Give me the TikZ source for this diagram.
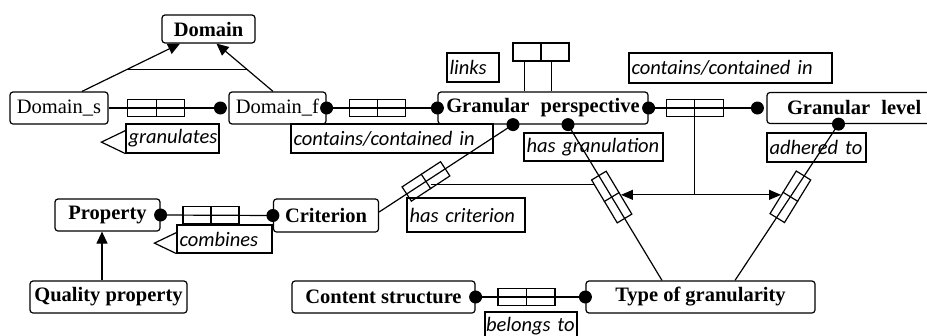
\documentclass[tikz,border=0pt]{standalone}
\usepackage{fontspec}
\setmainfont{Liberation Serif}
\newfontfamily\labfam{Carlito}
\usetikzlibrary{arrows.meta,calc}
\begin{document}
\begin{tikzpicture}[x=1pt,y=-1pt,line width=1.2pt,
  ent/.style={draw, rounded corners=3pt, fill=white, inner sep=0pt,
    font=\fontsize{20.5}{24}\selectfont\bfseries},
  entn/.style={ent, font=\fontsize{20.5}{24}\selectfont},
  lbl/.style={draw, inner xsep=2.5pt, inner ysep=0pt, align=left,
    font=\labfam\itshape\fontsize{20.5}{24}\selectfont},
  rel/.style={draw, inner sep=0pt, minimum width=#1, minimum height=17pt},
  rel/.default=57pt,
  tri/.style={-{Triangle[length=12pt,width=11pt]}},
  dot/.style={fill=black}
]
\useasboundingbox (0,0) rectangle (927,335);

% entities
\node[ent, minimum width=93pt, minimum height=28pt] (dom) at (208.5,29) {Domain};
\node[entn, minimum width=98pt, minimum height=32pt] (ds) at (59,108) {Domain\_s};
\node[entn, minimum width=97pt, minimum height=32pt] (df) at (277.5,108) {Domain\_f};
\node[ent, minimum width=210pt, minimum height=32pt] (gp) at (543,108) {Granular\hspace{0.55em}perspective};
\node[ent, minimum width=172pt, minimum height=31pt, text width=160pt, align=left] (gl) at (853,108) {\hspace{14pt}Granular\hspace{0.55em}level};
\node[ent, minimum width=105pt, minimum height=32pt] (prop) at (107.5,215) {Property};
\node[ent, minimum width=105pt, minimum height=33pt] (crit) at (326,215.5) {Criterion};
\node[ent, minimum width=157pt, minimum height=32pt] (qp) at (108.5,297) {Quality property};
\node[ent, minimum width=183pt, minimum height=32pt] (cs) at (383.5,297) {Content structure};
\node[ent, minimum width=229pt, minimum height=32pt] (tg) at (700.5,297) {Type of granularity};

% labels
\node[lbl, text width=88pt, minimum height=29pt] (lgr) at (172.5,138.5) {granulates};
\node[lbl, text width=197pt, minimum height=29pt] (lcc1) at (392,138.5) {contains/contained in};
\node[lbl, text width=47pt, minimum height=29pt] (llk) at (473,67.5) {links};
\node[lbl, text width=198pt, minimum height=30pt] (lcc2) at (730.5,68) {contains/contained in};
\node[lbl, text width=134pt, minimum height=28pt] (lhg) at (593.5,147) {has granulation};
\node[lbl, text width=94pt, minimum height=29pt] (lad) at (816.5,147.5) {adhered to};
\node[lbl, text width=113pt, minimum height=34pt] (lhc) at (466,215) {has criterion};
\node[lbl, text width=90pt, minimum height=28pt] (lcb) at (224.5,239) {combines};
\node[lbl, inner xsep=1pt, text width=90pt, minimum height=28pt] (lbt) at (531,326) {belongs to};

\draw (lgr.south west) -- ++(-24,-11.5) -- ++(24,-11.5);
\draw (lcb.south west) -- ++(-22,-10.5) -- ++(22,-10.5);

% generalisation
\draw[tri] ([xshift=23pt]ds.north) -- ([xshift=-28.5pt]dom.south);
\draw[tri] ([xshift=-4.5pt]df.north) -- ([xshift=8pt]dom.south);
\draw ($([xshift=23pt]ds.north)!0.45!([xshift=-28.5pt]dom.south)$) --
      ($([xshift=-4.5pt]df.north)!0.45!([xshift=8pt]dom.south)$);
\draw[tri] ([xshift=-6.5pt]qp.north) -- ([xshift=-6.5pt]qp.north |- prop.south);

% binary relationships
\draw (ds.east) -- node[rel, pos=0.426] (r1) {} ([xshift=-8pt]df.west);
\draw (df.east) -- node[rel=56pt, pos=0.46] (r2) {} (gp.west);
\draw (gp.east) -- node[rel, pos=0.424] (r3) {} ([xshift=-9pt]gl.west);
\draw (prop.east) -- node[rel=56pt, pos=0.449] (r4) {} (crit.west);
\draw (cs.east) -- node[rel, pos=0.464] (r5) {} (tg.west);
\foreach \r in {r1,r2,r3,r4,r5} \draw (\r.north) -- (\r.south);

% links relationship
\node[rel=56pt, minimum height=18pt] (rlk) at (541,52) {};
\draw (rlk.north) -- (rlk.south);
\draw ([xshift=-16.5pt]rlk.south) -- ([xshift=-16.5pt]rlk.south |- gp.north);
\draw ([xshift=10.5pt]rlk.south) -- ([xshift=10.5pt]rlk.south |- gp.north);

% sloped relationships
\draw ([xshift=-30pt]gp.south) -- node[rel=46pt, pos=0.65, rotate=33.2] (hc) {} ($(crit.east)+(0,-3.5)$);
\draw ([xshift=25pt]gp.south) -- node[rel=50pt, pos=0.465, rotate=-59.1] (hg) {} ([xshift=-38.5pt]tg.north);
\draw ([xshift=-14.5pt]gl.south) -- node[rel=50pt, pos=0.465, rotate=58.4] (hl) {} ([xshift=34.5pt]tg.north);
\foreach \r in {hc,hg,hl} \draw (\r.north) -- (\r.south);

\coordinate (al) at ($(hg.north west)!0.556!(hg.north east)$);
\coordinate (ar) at ($(hl.north west)!0.44!(hl.north east)$);
\draw[{Triangle[length=12pt,width=10pt]}-{Triangle[length=12pt,width=10pt]}] (al) -- (al -| ar);
\draw (r3.south) -- (r3.south |- al);
\coordinate (hj) at ($(hg.south west)!0.117!(hg.south east)$);
\draw (hj -| hc.south) -- (hj);

% dots
\fill ([xshift=-8pt]df.west) circle (6.5pt);
\fill (df.east) circle (6.5pt);
\fill (gp.west) circle (6.5pt);
\fill (gp.east) circle (6.5pt);
\fill ([xshift=-9pt]gl.west) circle (6.5pt);
\fill ([xshift=-30pt]gp.south) circle (6.5pt);
\fill ([xshift=25pt]gp.south) circle (6.5pt);
\fill ([xshift=-14.5pt]gl.south) circle (6.5pt);
\fill (prop.east) circle (6.5pt);
\fill (crit.west) circle (6.5pt);
\fill (cs.east) circle (6.5pt);
\fill (tg.west) circle (6.5pt);
\end{tikzpicture}
\end{document}
